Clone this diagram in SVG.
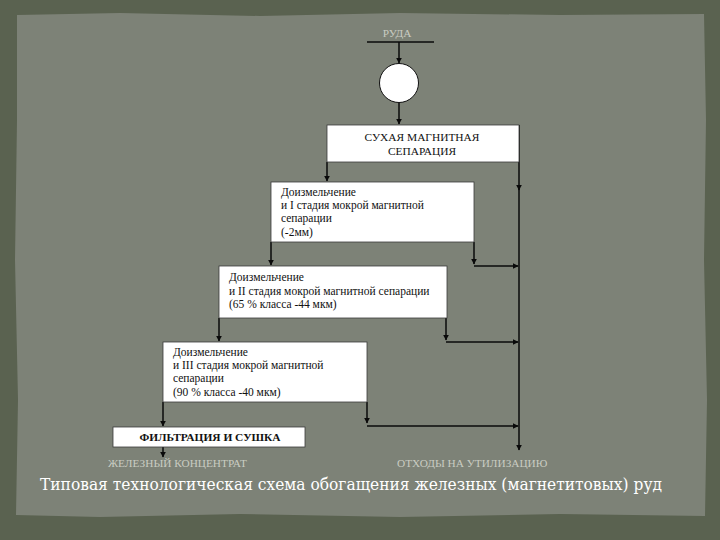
<svg xmlns="http://www.w3.org/2000/svg" width="720" height="540" viewBox="0 0 720 540">
<defs>
<style>
.box{fill:#ffffff;stroke:#3a3a3a;stroke-width:0.8}
.t{font-family:"Liberation Serif","Times New Roman",serif;font-size:11.5px;fill:#111}
.tc{font-family:"Liberation Serif","Times New Roman",serif;font-size:11.4px;fill:#111;text-anchor:middle}
.ln{fill:none;stroke:#0a0a0a;stroke-width:1.5}
.lbl{font-family:"Liberation Serif","Times New Roman",serif;font-size:11.3px;fill:#c9ccc2}
.cap{font-family:"DejaVu Serif","Liberation Serif",serif;font-size:16px;fill:#ffffff}
</style>
<marker id="ah" viewBox="0 0 10 10" refX="9" refY="5" markerWidth="6" markerHeight="6" markerUnits="userSpaceOnUse" orient="auto">
<path d="M0,0 L10,5 L0,10 z" fill="#0a0a0a"/>
</marker>
</defs>
<rect width="720" height="540" fill="#5a6250"/>
<path d="M17,15 L120,13 L260,16 L400,13 L560,15 L704,14 L706,120 L704,260 L707,400 L705,516 L560,514 L400,517 L240,514 L100,517 L16,515 L18,400 L15,260 L17,120 Z" fill="#7d8277"/>
<g id="connectors">
<line class="ln" x1="367" y1="42" x2="434" y2="42"/>
<line class="ln" x1="399" y1="42" x2="399" y2="63" marker-end="url(#ah)"/>
<line class="ln" x1="399" y1="103" x2="399" y2="124" marker-end="url(#ah)"/>
<line class="ln" x1="327" y1="162" x2="327" y2="181" marker-end="url(#ah)"/>
<line class="ln" x1="519" y1="125" x2="519" y2="190" marker-end="url(#ah)"/>
<line class="ln" x1="519" y1="186" x2="519" y2="450" marker-end="url(#ah)"/>
<line class="ln" x1="271" y1="242" x2="271" y2="265" marker-end="url(#ah)"/>
<line class="ln" x1="474" y1="242" x2="474" y2="264" marker-end="url(#ah)"/>
<line class="ln" x1="474" y1="266" x2="518" y2="266" marker-end="url(#ah)"/>
<line class="ln" x1="219" y1="318" x2="219" y2="341" marker-end="url(#ah)"/>
<line class="ln" x1="446" y1="318" x2="446" y2="340" marker-end="url(#ah)"/>
<line class="ln" x1="446" y1="342" x2="518" y2="342" marker-end="url(#ah)"/>
<line class="ln" x1="163" y1="402" x2="163" y2="426" marker-end="url(#ah)"/>
<line class="ln" x1="367" y1="402" x2="367" y2="423" marker-end="url(#ah)"/>
<line class="ln" x1="367" y1="426" x2="518" y2="426" marker-end="url(#ah)"/>
<line class="ln" x1="163" y1="447" x2="163" y2="457" marker-end="url(#ah)"/>
</g>
<g id="ore">
<text x="397" y="37" class="lbl" text-anchor="middle">РУДА</text>
</g>
<g id="crusher">
<circle cx="399" cy="83" r="19.5" fill="#ffffff" stroke="#111" stroke-width="1"/>
</g>
<g id="dry">
<rect class="box" x="327" y="125" width="192" height="37"/>
<text class="tc" x="422" y="141">СУХАЯ МАГНИТНАЯ</text>
<text class="tc" x="422" y="155">СЕПАРАЦИЯ</text>
</g>
<g id="stage1">
<rect class="box" x="271" y="182" width="203" height="60"/>
<text class="t" x="281" y="196">Доизмельчение</text>
<text class="t" x="281" y="209">и I стадия мокрой магнитной</text>
<text class="t" x="281" y="222">сепарации</text>
<text class="t" x="281" y="236">(-2мм)</text>
</g>
<g id="stage2">
<rect class="box" x="219" y="266" width="228" height="52"/>
<text class="t" x="229" y="281">Доизмельчение</text>
<text class="t" x="229" y="295">и II стадия мокрой магнитной сепарации</text>
<text class="t" x="229" y="308">(65 % класса -44 мкм)</text>
</g>
<g id="stage3">
<rect class="box" x="163" y="342" width="204" height="60"/>
<text class="t" x="173" y="356">Доизмельчение</text>
<text class="t" x="173" y="369">и III стадия мокрой магнитной</text>
<text class="t" x="173" y="382">сепарации</text>
<text class="t" x="173" y="396">(90 % класса -40 мкм)</text>
</g>
<g id="filtration">
<rect class="box" x="113" y="427" width="192" height="20"/>
<text class="tc" x="210" y="441" font-weight="bold" font-size="10.3">ФИЛЬТРАЦИЯ И СУШКА</text>
</g>
<g id="concentrate">
<text class="lbl" x="108" y="467">ЖЕЛЕЗНЫЙ КОНЦЕНТРАТ</text>
</g>
<g id="tailings">
<text class="lbl" x="397" y="467">ОТХОДЫ НА УТИЛИЗАЦИЮ</text>
</g>
<text class="cap" x="40" y="490" textLength="622" lengthAdjust="spacingAndGlyphs">Типовая технологическая схема обогащения железных (магнетитовых) руд</text>
</svg>
